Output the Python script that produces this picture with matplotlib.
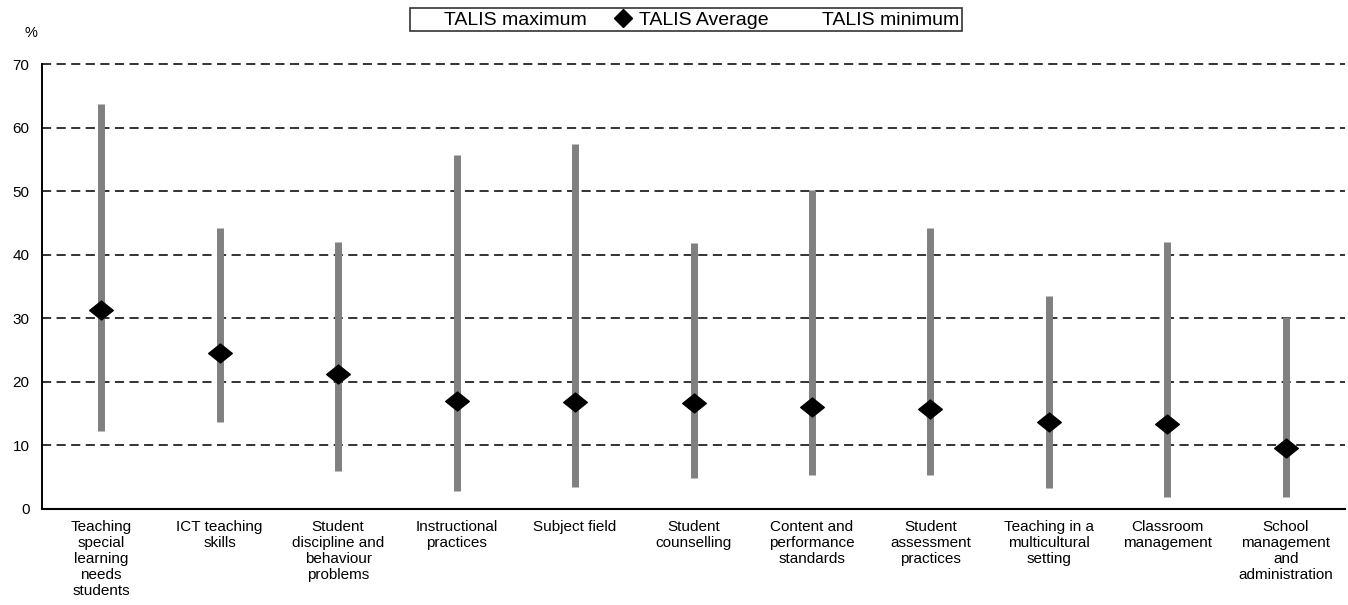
import matplotlib
matplotlib.use("Agg")
import matplotlib.pyplot as plt
from matplotlib.lines import Line2D
from matplotlib.path import Path

categories = [
    "Teaching\nspecial\nlearning\nneeds\nstudents",
    "ICT teaching\nskills",
    "Student\ndiscipline and\nbehaviour\nproblems",
    "Instructional\npractices",
    "Subject field",
    "Student\ncounselling",
    "Content and\nperformance\nstandards",
    "Student\nassessment\npractices",
    "Teaching in a\nmulticultural\nsetting",
    "Classroom\nmanagement",
    "School\nmanagement\nand\nadministration",
]
talis_max = [63.7, 44.2, 42.0, 55.7, 57.4, 41.8, 50.2, 44.2, 33.5, 42.0, 30.2]
talis_avg = [31.3, 24.6, 21.3, 17.0, 16.9, 16.6, 16.0, 15.7, 13.7, 13.3, 9.6]
talis_min = [12.3, 13.7, 6.0, 2.9, 3.5, 4.9, 5.4, 5.4, 3.3, 1.9, 1.9]
y_ticks = [0, 10, 20, 30, 40, 50, 60, 70]

plt.rcParams['font.family'] = ['Liberation Sans', 'DejaVu Sans']

# slightly wide diamond
wide_diamond = Path([(-1.25, 0), (0, 1), (1.25, 0), (0, -1), (-1.25, 0)],
                    [Path.MOVETO, Path.LINETO, Path.LINETO, Path.LINETO,
                     Path.CLOSEPOLY])

fig = plt.figure(figsize=(13.48, 6.05), dpi=100)
ax = fig.add_axes([42/1348, 96/605, 1303/1348, 445/605])

x = list(range(len(categories)))
ax.vlines(x, talis_min, talis_max, color='#808080', linewidth=5, zorder=2)
ax.plot(x, talis_avg, linestyle='none', marker=wide_diamond, color='black',
        markersize=17, zorder=3)

ax.set_xlim(-0.5, len(categories) - 0.5)
ax.set_ylim(0, 70)
ax.set_yticks(y_ticks)
ax.set_yticklabels([str(t) for t in y_ticks], fontsize=11)
ax.set_xticks(x)
ax.set_xticklabels(categories, fontsize=11, linespacing=1.18)
ax.tick_params(axis='x', length=0, pad=8)
ax.tick_params(axis='y', length=0, pad=9)

for t in y_ticks[1:]:
    ax.axhline(t, color='#333333', linestyle=(0, (4.7, 2.8)), linewidth=1.4,
               zorder=1, clip_on=False)

for s in ['top', 'right']:
    ax.spines[s].set_visible(False)
ax.spines['left'].set_linewidth(1.4)
ax.spines['bottom'].set_linewidth(1.5)

fig.text(31/1348, 1 - 33/605, "%", fontsize=10.5, ha='center', va='center')

handles = [
    Line2D([], [], linestyle='none', marker='None'),
    Line2D([], [], linestyle='none', marker='D', color='black', markersize=9),
    Line2D([], [], linestyle='none', marker='None'),
]
labels = ["TALIS maximum", "TALIS Average", "TALIS minimum"]
leg = fig.legend(handles, labels, loc='upper center', ncol=3,
                 bbox_to_anchor=(686/1348, 1 - 8/605), fontsize=14,
                 frameon=True, fancybox=False, edgecolor='black',
                 handlelength=1.5, handletextpad=0.1, columnspacing=1.1,
                 borderpad=0.15, borderaxespad=0)
leg.get_frame().set_linewidth(1.2)

fig.savefig("out.png", dpi=100)
